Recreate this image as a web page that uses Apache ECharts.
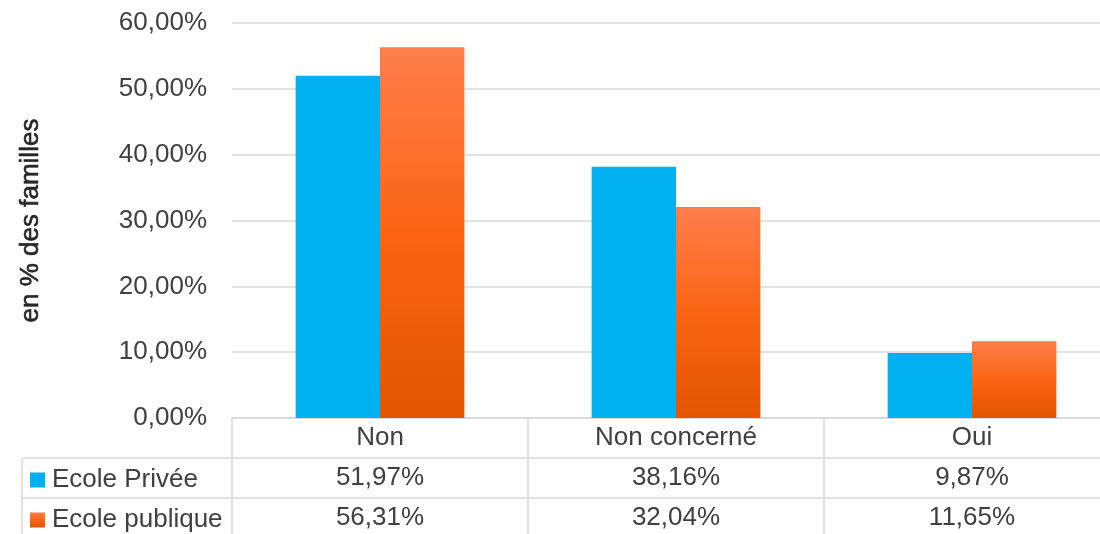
<!DOCTYPE html>
<html><head><meta charset="utf-8">
<script src="https://cdn.jsdelivr.net/npm/echarts@6/dist/echarts.min.js"></script>
<style>html,body{margin:0;padding:0;background:#fff}#c{width:1100px;height:534px}</style>
</head><body><div id="c"></div>
<script>
const categories = ['Non', 'Non concerné', 'Oui'];
const seriesNames = ['Ecole Privée', 'Ecole publique'];
const ecolePrivee = [51.97, 38.16, 9.87];
const ecolePublique = [56.31, 32.04, 11.65];
const yTicks = {min: 0, max: 60, interval: 10};

const fmt = v => v.toFixed(2).replace('.', ',') + '%';
const FONT = '"Liberation Sans", Arial, sans-serif';
const FS = 26;
const TXT = '#404040';
const LINE = '#D9D9D9';

const chart = echarts.init(document.getElementById('c'));
const orangeGrad = new echarts.graphic.LinearGradient(0, 0, 0, 1, [
  {offset: 0, color: '#FF7E4B'},
  {offset: 0.5, color: '#FA6414'},
  {offset: 1, color: '#E35500'}
]);
const legendCommon = {
  orient: 'vertical', left: 30, itemWidth: 15, itemHeight: 15, icon: 'rect', itemGap: 0,
  textStyle: {fontSize: FS, color: TXT, fontFamily: FONT, padding: [0, 0, 0, 2]}, padding: 0
};
chart.setOption({
  animation: false,
  textStyle: {fontFamily: FONT},
  grid: {left: 232, right: -20, top: 23, bottom: 116, outerBoundsMode: 'none', containLabel: false},
  legend: [
    Object.assign({}, legendCommon, {top: 467, data: [seriesNames[0]]}),
    Object.assign({}, legendCommon, {top: 507, data: [seriesNames[1]]})
  ],
  xAxis: {
    type: 'category', data: categories,
    axisLine: {lineStyle: {color: LINE, width: 1.5}},
    axisTick: {show: true, length: 120, lineStyle: {color: LINE, width: 1.5}},
    axisLabel: {
      margin: 0, fontSize: FS, color: TXT, lineHeight: 40, fontFamily: FONT,
      formatter: (v, i) => v + '\n' + fmt(ecolePrivee[i]) + '\n' + fmt(ecolePublique[i])
    }
  },
  yAxis: {
    type: 'value', min: yTicks.min, max: yTicks.max, interval: yTicks.interval,
    name: 'en % des familles', nameLocation: 'middle', nameGap: 188,
    nameTextStyle: {fontSize: 26, color: '#262626', fontFamily: FONT,
      textBorderColor: '#262626', textBorderWidth: 0.6},
    axisLine: {show: false}, axisTick: {show: false},
    axisLabel: {margin: 25, fontSize: FS, color: TXT, fontFamily: FONT, formatter: v => fmt(v)},
    splitLine: {lineStyle: {color: LINE, width: 1.5}}
  },
  series: [
    {name: seriesNames[0], type: 'bar', data: ecolePrivee, barGap: '0%', barCategoryGap: '43%',
     itemStyle: {color: '#00B0F0'}},
    {name: seriesNames[1], type: 'bar', data: ecolePublique, barGap: '0%', barCategoryGap: '43%',
     itemStyle: {color: orangeGrad}}
  ],
  graphic: [
    {type: 'line', shape: {x1: 22, y1: 458, x2: 1100, y2: 458}, style: {stroke: LINE, lineWidth: 1.5}},
    {type: 'line', shape: {x1: 22, y1: 498, x2: 1100, y2: 498}, style: {stroke: LINE, lineWidth: 1.5}},
    {type: 'line', shape: {x1: 22, y1: 458, x2: 22, y2: 534}, style: {stroke: LINE, lineWidth: 1.5}}
  ]
});
</script></body></html>
